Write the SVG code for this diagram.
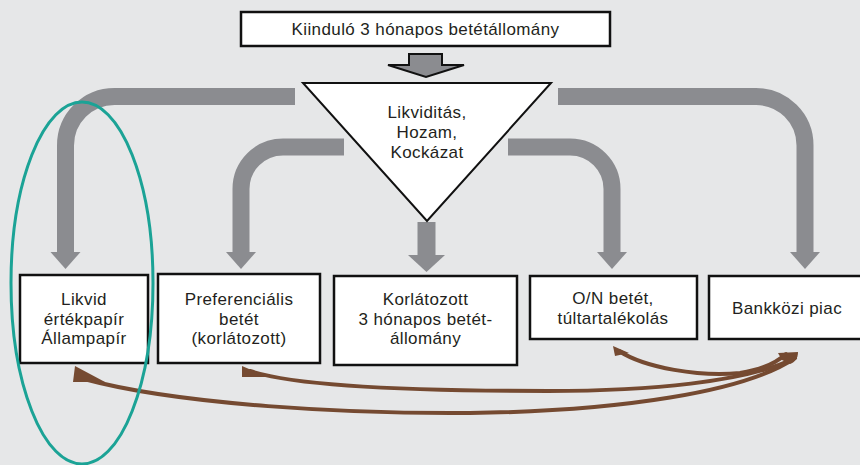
<svg xmlns="http://www.w3.org/2000/svg" width="860" height="465" viewBox="0 0 860 465">
<style>
.bg{fill:#e6e7e8}
.box{fill:#ffffff;stroke:#111111;stroke-width:2.5}
.txt{font-family:"Liberation Sans",Arial,sans-serif;font-size:17px;letter-spacing:0.4px;fill:#231f20;text-anchor:middle}
.gray{fill:none;stroke:#8b8c90;stroke-width:17}
.ghead{fill:#8b8c90}
.brown{fill:none;stroke:#754a31;stroke-width:4;stroke-linecap:round}
.bhead{fill:#754a31}
</style>
<rect class="bg" x="0" y="0" width="860" height="465"/>

<g id="connectors">
  <path class="gray" d="M295,96.5 H114.5 A49,49 0 0 0 65.5,145.5 V253"/>
  <polygon class="ghead" points="50.5,252 80.5,252 65.5,269"/>
  <path class="gray" d="M558,96.5 H756 A49,49 0 0 1 805,145.5 V253"/>
  <polygon class="ghead" points="790,252 820,252 805,269"/>
  <path class="gray" d="M344,147 H283 A42,42 0 0 0 241,189 V253"/>
  <polygon class="ghead" points="226,252 256,252 241,269"/>
  <path class="gray" d="M508,147 H570 A42,42 0 0 1 612,189 V253"/>
  <polygon class="ghead" points="597,252 627,252 612,269"/>
  <path class="gray" d="M426.5,222 V256" style="stroke-width:18"/>
  <polygon class="ghead" points="408,255 445,255 426.5,272"/>
  <polygon points="409,54 442,54 442,65 464,65 426,77 388,65 409,65" fill="#8b8c90" stroke="#111111" stroke-width="2" stroke-linejoin="miter"/>

  <path class="brown" d="M84,379 C180,405 350,414 470,413 C620,411 745,392 795,358"/>
  <polygon class="bhead" points="75,366 73,382 105,382"/>
  <path class="brown" d="M250,371 C295,386 420,391 548,391 C650,391 745,382 793,359"/>
  <polygon class="bhead" points="242,366 242,377 268,377"/>
  <path class="brown" d="M619,351 C645,368 700,377 740,373 C760,370 775,364 786,354"/>
  <polygon class="bhead" points="613,346 615,356 629,353"/>
  <path class="bhead" d="M778,353 L798,352 C798,358 795,362 790,364 L782,360 Z"/>
</g>

<g id="top-box">
  <rect class="box" x="241" y="12" width="369" height="34"/>
  <text class="txt" x="425.5" y="35">Kiinduló 3 hónapos betétállomány</text>
</g>

<g id="triangle">
  <polygon points="303,83 551,83 427,221" fill="#ffffff" stroke="#111111" stroke-width="2"/>
  <text class="txt" x="427" y="118">Likviditás,</text>
  <text class="txt" x="427" y="138">Hozam,</text>
  <text class="txt" x="427" y="158">Kockázat</text>
</g>

<g id="box-likvid">
  <rect class="box" x="20" y="275" width="128" height="88"/>
  <text class="txt" x="84" y="305">Likvid</text>
  <text class="txt" x="84" y="324.5">értékpapír</text>
  <text class="txt" x="84" y="344">Állampapír</text>
</g>

<g id="box-preferencialis">
  <rect class="box" x="158" y="274" width="162" height="89"/>
  <text class="txt" x="239" y="305">Preferenciális</text>
  <text class="txt" x="239" y="324.5">betét</text>
  <text class="txt" x="239" y="344">(korlátozott)</text>
</g>

<g id="box-korlatozott">
  <rect class="box" x="334" y="276" width="183" height="89"/>
  <text class="txt" x="425.5" y="305">Korlátozott</text>
  <text class="txt" x="425.5" y="324.5">3 hónapos betét-</text>
  <text class="txt" x="425.5" y="344">állomány</text>
</g>

<g id="box-on">
  <rect class="box" x="530" y="276" width="167" height="63"/>
  <text class="txt" x="613" y="304">O/N betét,</text>
  <text class="txt" x="613" y="323.5">túltartalékolás</text>
</g>

<g id="box-bankkozi">
  <rect class="box" x="709" y="276" width="165" height="63"/>
  <text class="txt" x="787" y="314">Bankközi piac</text>
</g>

<g id="highlight">
  <ellipse cx="82" cy="283" rx="71" ry="181" fill="none" stroke="#1ba396" stroke-width="3"/>
</g>
</svg>
